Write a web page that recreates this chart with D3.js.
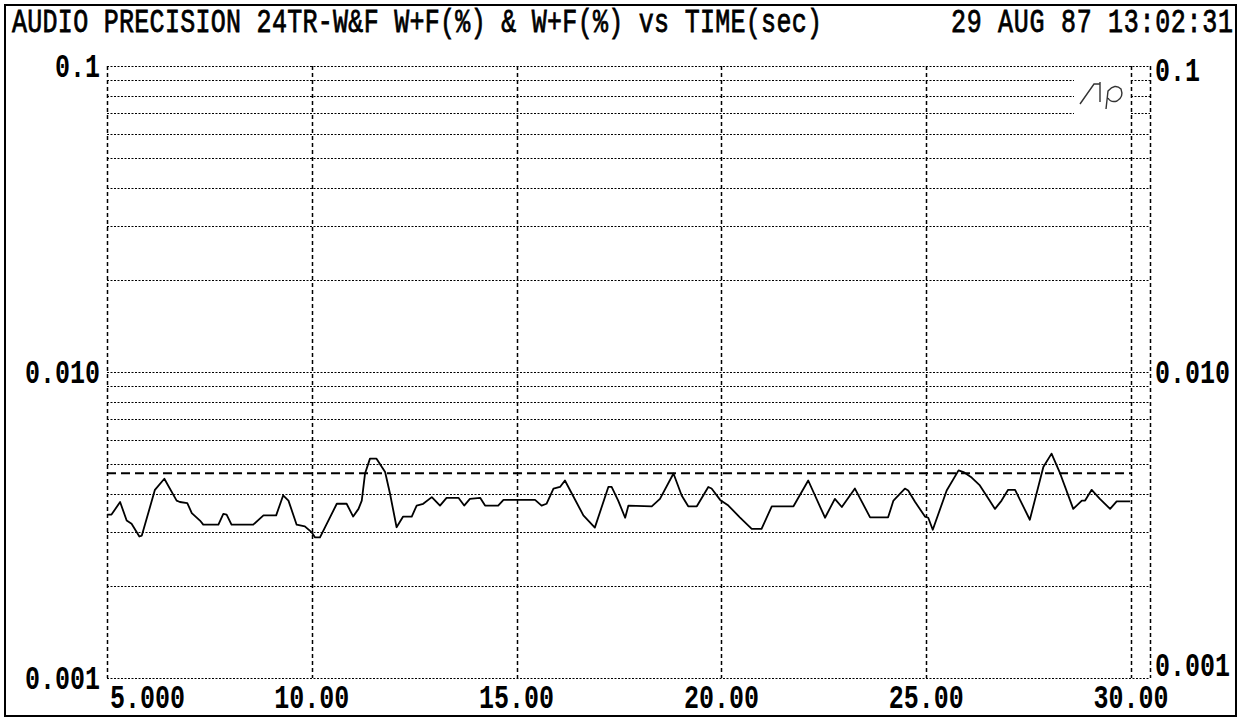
<!DOCTYPE html>
<html><head><meta charset="utf-8">
<script src="https://cdn.jsdelivr.net/npm/d3@7"></script>
<style>html,body{margin:0;padding:0;background:#fff;} svg{display:block}</style>
</head><body><svg id="c" width="1241" height="721"></svg>
<script>
// ---------- data ----------
const titleText = "AUDIO PRECISION 24TR-W&F W+F(%) & W+F(%) vs TIME(sec)";
const dateText = "29 AUG 87 13:02:31";
const xTicks = [5, 10, 15, 20, 25, 30];
const xTickLabels = ["5.000", "10.00", "15.00", "20.00", "25.00", "30.00"];
const yMajor = [0.1, 0.01, 0.001];
const yTickLabels = ["0.1", "0.010", "0.001"];
const limitValue = 0.00467;
const timeSec = [5.00, 5.11, 5.32, 5.48, 5.60, 5.79, 5.85, 6.17, 6.40, 6.70,
  6.78, 6.96, 7.07, 7.27, 7.35, 7.72, 7.84, 7.92, 8.04, 8.57,
  8.82, 9.13, 9.30, 9.43, 9.63, 9.83, 10.00, 10.08, 10.20, 10.61,
  10.85, 11.01, 11.14, 11.22, 11.30, 11.42, 11.58, 11.79, 11.91, 12.07,
  12.23, 12.44, 12.56, 12.72, 12.93, 13.13, 13.29, 13.58, 13.72, 13.86,
  14.11, 14.23, 14.55, 14.68, 15.45, 15.61, 15.73, 15.90, 16.06, 16.18,
  16.63, 16.91, 17.24, 17.32, 17.48, 17.65, 17.73, 18.30, 18.50, 18.83,
  19.03, 19.19, 19.40, 19.68, 19.76, 19.97, 20.17, 20.45, 20.74, 20.98,
  21.23, 21.76, 22.12, 22.53, 22.77, 22.94, 23.26, 23.63, 24.07, 24.20,
  24.48, 24.56, 24.73, 24.97, 25.05, 25.16, 25.50, 25.79, 25.91, 26.11,
  26.31, 26.52, 26.68, 26.84, 27.00, 27.17, 27.53, 27.86, 28.06, 28.27,
  28.59, 28.80, 28.88, 29.04, 29.24, 29.49, 29.65, 29.98];
const wfPercent = [0.00342, 0.00342, 0.00376, 0.00327, 0.00319, 0.00290, 0.00292, 0.00412, 0.00448, 0.00380,
  0.00376, 0.00373, 0.00346, 0.00327, 0.00317, 0.00317, 0.00344, 0.00342, 0.00317, 0.00317,
  0.00340, 0.00340, 0.00395, 0.00380, 0.00317, 0.00313, 0.00299, 0.00288, 0.00288, 0.00371,
  0.00371, 0.00337, 0.00357, 0.00380, 0.00466, 0.00521, 0.00521, 0.00471, 0.00400, 0.00311,
  0.00337, 0.00337, 0.00366, 0.00371, 0.00390, 0.00366, 0.00388, 0.00388, 0.00366, 0.00385,
  0.00388, 0.00366, 0.00366, 0.00382, 0.00382, 0.00366, 0.00371, 0.00416, 0.00421, 0.00442,
  0.00340, 0.00310, 0.00421, 0.00421, 0.00380, 0.00334, 0.00366, 0.00364, 0.00385, 0.00466,
  0.00395, 0.00364, 0.00364, 0.00421, 0.00416, 0.00382, 0.00366, 0.00335, 0.00307, 0.00307,
  0.00364, 0.00364, 0.00442, 0.00334, 0.00385, 0.00362, 0.00416, 0.00335, 0.00335, 0.00380,
  0.00416, 0.00410, 0.00376, 0.00337, 0.00334, 0.00305, 0.00410, 0.00477, 0.00471, 0.00452,
  0.00426, 0.00385, 0.00357, 0.00380, 0.00412, 0.00412, 0.00329, 0.00489, 0.00541, 0.00466,
  0.00357, 0.00380, 0.00380, 0.00412, 0.00385, 0.00357, 0.00378, 0.00378];

// ---------- layout ----------
const W = 1241, H = 721;
const plotL = 107, plotR = 1150, x30 = 1131, plotT = 66, plotB = 678;
const svg = d3.select("#c");
const x = d3.scaleLinear().domain([5, 30]).range([plotL, x30]);
const y = d3.scaleLog().domain([0.001, 0.1]).range([plotB, plotT]);
const FONT = "'Liberation Mono', 'DejaVu Sans Mono', monospace";
const FS = 25, SY = 1.3, CAP = 0.688 * FS * SY;

svg.append("rect").attr("width", W).attr("height", H).attr("fill", "#fff");
// outer border
svg.append("rect").attr("x", 5).attr("y", 5).attr("width", 1231).attr("height", 711)
  .attr("fill", "none").attr("stroke", "#000").attr("stroke-width", 2);

function label(txt, px, baseline, anchor, weight, len, strokeW) {
  const g = svg.append("g").attr("transform", `translate(${px},${baseline}) scale(1,${SY})`);
  const t = g.append("text").text(txt).attr("x", 0).attr("y", 0)
    .attr("font-family", FONT).attr("font-size", FS).attr("font-weight", weight)
    .attr("text-anchor", anchor).attr("fill", "#000");
  if (len) t.attr("textLength", len).attr("lengthAdjust", "spacing");
  if (strokeW) t.attr("stroke", "#000").attr("stroke-width", strokeW);
  return g;
}

// title + date
label(titleText, 12, 32, "start", "normal", 810, 0.6);
label(dateText, 951, 32, "start", "normal", 282, 0.6);

// horizontal grid (log minor + major)
const gridVals = [];
[0.001, 0.01].forEach(d => d3.range(1, 10).forEach(k => gridVals.push(+(d * k).toPrecision(3))));
gridVals.push(0.1);
const logoBreak = [0.09, 0.08, 0.07];
const gridG = svg.append("g").attr("stroke", "#000").attr("stroke-width", 1).attr("stroke-dasharray", "2,1.5");
gridVals.forEach(v => {
  const yy = Math.round(y(v)) + 0.5;
  if (logoBreak.some(b => Math.abs(b - v) < 1e-9)) {
    gridG.append("line").attr("x1", plotL).attr("x2", 1074).attr("y1", yy).attr("y2", yy);
    gridG.append("line").attr("x1", x30).attr("x2", plotR).attr("y1", yy).attr("y2", yy);
  } else {
    gridG.append("line").attr("x1", plotL).attr("x2", plotR).attr("y1", yy).attr("y2", yy);
  }
});

// vertical grid
const vG = svg.append("g").attr("stroke", "#000").attr("stroke-width", 1.5).attr("stroke-dasharray", "4,3");
xTicks.forEach(t => {
  const xx = Math.round(x(t)) + 0.5;
  vG.append("line").attr("x1", xx).attr("x2", xx).attr("y1", plotT).attr("y2", plotB);
});
vG.append("line").attr("x1", plotR + 0.5).attr("x2", plotR + 0.5).attr("y1", plotT).attr("y2", plotB);

// y labels (left centred on line; right side offset like the original plotter output)
const rightOffset = [4, 0, -CAP / 2 - 2];
yMajor.forEach((v, i) => {
  label(yTickLabels[i], 100, y(v) + CAP / 2, "end", "bold");
  label(yTickLabels[i], 1155, y(v) + CAP / 2 + rightOffset[i], "start", "bold");
});
// x labels
xTicks.forEach((t, i) => {
  if (i === 0) label(xTickLabels[i], x(t) + 3, plotB + 8 + CAP, "start", "bold");
  else label(xTickLabels[i], x(t), plotB + 8 + CAP, "middle", "bold");
});

// limit (dashed) line
svg.append("line").attr("x1", plotL).attr("x2", x30)
  .attr("y1", y(limitValue)).attr("y2", y(limitValue))
  .attr("stroke", "#000").attr("stroke-width", 2).attr("stroke-dasharray", "9,5");

// data trace
const pts = timeSec.map((t, i) => [t, wfPercent[i]]);
svg.append("path").datum(pts)
  .attr("d", d3.line().x(d => x(d[0])).y(d => y(d[1])))
  .attr("fill", "none").attr("stroke", "#000").attr("stroke-width", 1.8)
  .attr("stroke-linejoin", "round");

// Ap logo
const lg = svg.append("g").attr("transform", `translate(1080,${y(0.09) + 2})`)
  .attr("fill", "none").attr("stroke", "#333").attr("stroke-width", 1.4);
lg.append("path").attr("d", "M0,22 L14,2 L20,2 M20,0 L20,20");
lg.append("path").attr("d", "M26,27 L28,9 Q35,1 41,7 Q44,15 37,19 Q31,21 28,16");
</script></body></html>
